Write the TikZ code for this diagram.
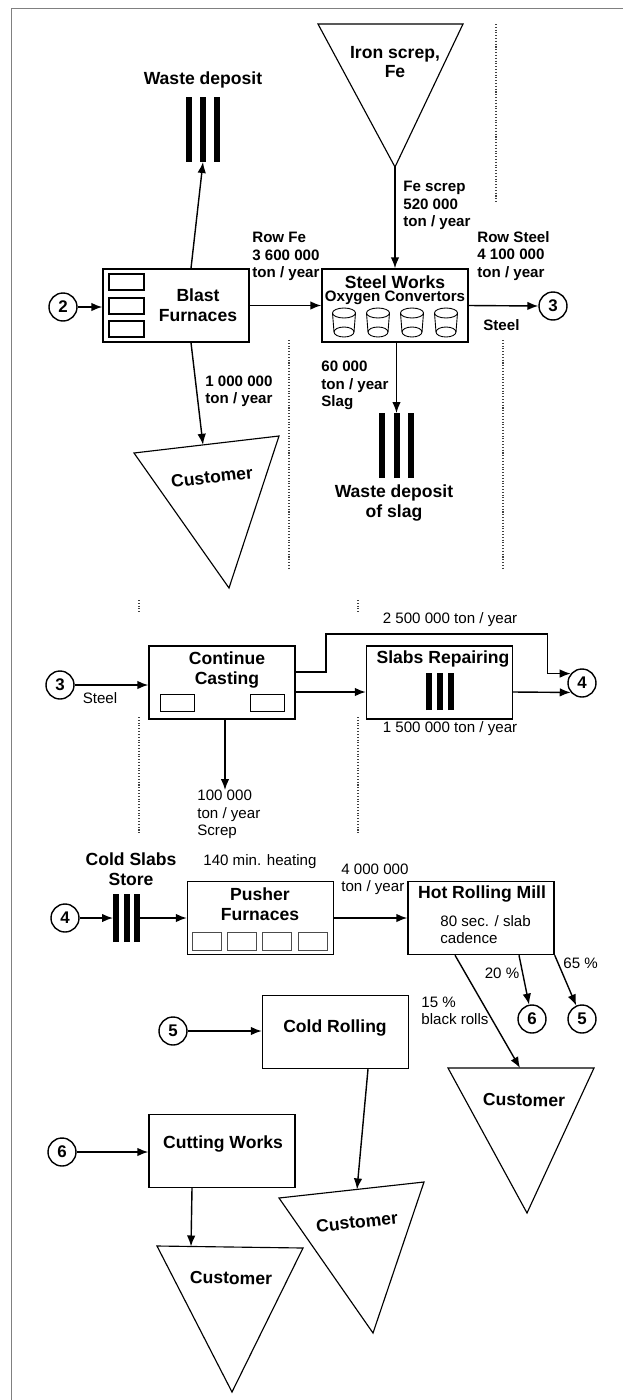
\documentclass[tikz,border=0pt]{standalone}
\usepackage{fontspec}
\setmainfont{Liberation Sans}
\usetikzlibrary{arrows.meta}

\tikzset{
  unit/.style={draw, line width=0.8pt, minimum width=2.92cm, minimum height=1.46cm, inner sep=0},
  link/.style={draw, circle, line width=0.8pt, minimum size=0.56cm, inner sep=0, font=\bfseries\fontsize{9.6}{11}\selectfont},
  title/.style={font=\bfseries\fontsize{10}{11.3}\selectfont, align=center, inner sep=0},
  flow/.style={font=\bfseries\fontsize{8.6}{9.9}\selectfont, align=left, inner sep=0},
  note/.style={font=\fontsize{8.6}{9.9}\selectfont, align=left, inner sep=0},
  arr/.style={line width=0.8pt, -{Latex[length=2.2mm,width=1.7mm]}},
  sink/.style={line width=0.65pt, line join=miter},
  guide/.style={densely dotted, line width=0.6pt, black!75},
  bars/.style={inner sep=0, outer sep=0},
}
\newcommand{\slabbars}[2]{\rule{1.2mm}{#2}\hspace{#1}\rule{1.2mm}{#2}\hspace{#1}\rule{1.2mm}{#2}}

\begin{document}
\begin{tikzpicture}[x=0.02cm, y=-0.02cm]
\useasboundingbox (0,0) rectangle (623,1400);
\draw[gray, line width=1pt] (11.5,1400) -- (11.5,8.5) -- (623,8.5);

% guide lines
\draw[guide] (496,24) -- (496,203);
\draw[guide] (289,340) -- (289,568);
\draw[guide] (503,340) -- (503,568);
\draw[guide] (139,600) -- (139,613);
\draw[guide] (358,600) -- (358,613);
\draw[guide] (139,717) -- (139,835);
\draw[guide] (358,717) -- (358,835);

% iron works
\node[title] (wastetxt) at (203,80) {Waste deposit};
\node[bars] (waste1) at (203,129.5) {\slabbars{1.6mm}{1.3cm}};
\coordinate (irontip) at (395,167);
\draw[sink] (318,24) -- (463,24) -- (irontip) -- cycle;
\node[title] (iron) at (395,62) {Iron screp,\\Fe};

\node[unit] (blast) at (176,305.5) {};
\foreach \ry in {274,298,321} \draw[line width=0.6pt] (109,\ry) rectangle (144,\ry+16);
\node[title] (blasttxt) at (198,305) {Blast\\Furnaces};

\node[unit] (steel) at (395,305.5) {};
\node[title] (steeltxt) at (395,282) {Steel Works};
\node[flow] (oxytxt) at (395,298) {Oxygen Convertors};
\foreach \cx in {344,378,412,446} {
  \draw[line width=0.5pt] (\cx,313) ellipse [x radius=0.23cm, y radius=0.1cm];
  \draw[line width=0.5pt] (\cx-11.5,313) -- (\cx-10,332) (\cx+11.5,313) -- (\cx+10,332);
  \draw[line width=0.5pt] (\cx,332) ellipse [x radius=0.2cm, y radius=0.1cm];
}

\node[bars] (slag) at (396.5,445.5) {\slabbars{1.7mm}{1.3cm}};
\node[title] (slagtxt) at (394,503) {Waste deposit\\of slag};

\coordinate (cust1top) at (203,444.8);
\draw[sink] (134,453) -- (279,436) -- (229,588) -- cycle;
\node[title, rotate=6.7] (cust1) at (212,477) {Customer};

\node[link] (in2) at (63,307) {2};
\node[link] (out3) at (553,306) {3};

\node[flow, anchor=west] at (252,256.5) {Row Fe\\3 600 000\\ton / year};
\node[flow, anchor=west] at (403,205.5) {Fe screp\\520 000\\ton / year};
\node[flow, anchor=west] at (477,256) {Row Steel\\4 100 000\\ton / year};
\node[flow, anchor=west] at (483,325) {Steel};
\node[flow, anchor=west] at (205,391) {1 000 000\\ton / year};
\node[flow, anchor=west] at (321,385.5) {60 000\\ton / year\\Slag};

\draw[arr] (in2.east) -- (in2 -| blast.west);
\draw[arr] (blast.east) -- (steel.west);
\draw[arr] ([xshift=0.3cm]blast.north) -- (waste1.south);
\draw[arr] ([xshift=0.3cm]blast.south) -- (cust1top);
\draw[arr] (irontip) -- (steel.north);
\draw[arr] (steel.east) -- (out3.west);
\draw[arr] (slag.north |- steel.south) -- (slag.north);

% casting
\node[link] (in3) at (60,685) {3};
\node[note] at (100,698) {Steel};
\node[unit] (casting) at (222,682.5) {};
\node[title] (castingtxt) at (227,670) {Continue\\Casting};
\draw[line width=0.5pt] (160,694) rectangle (194,711) (250,694) rectangle (284,711);
\node[unit] (repair) at (439.5,682.5) {};
\node[title] (repairtxt) at (443,659) {Slabs Repairing};
\node[bars] (repairbars) at (439.5,691.5) {\slabbars{1mm}{0.74cm}};
\node[link] (out4) at (582,683) {4};
\node[note] at (450,620) {2 500 000 ton / year};
\node[note] at (450,729) {1 500 000 ton / year};
\coordinate (scrapend) at (225,790);
\node[note, anchor=west] at (197,814.5) {100 000\\ton / year\\Screp};

\draw[arr] (in3.east) -- (in3 -| casting.west);
\draw[arr] ([yshift=0.21cm]casting.east) -| (326,634) -| ([xshift=-0.47cm]out4.140) -- (out4.140);
\draw[arr] ([yshift=-0.19cm]casting.east) -- ([yshift=-0.19cm]repair.west);
\draw[arr] ([yshift=-0.19cm]repair.east) -- (out4.220);
\draw[arr] (scrapend |- casting.south) -- (scrapend);

% rolling
\node[link] (in4) at (65,918) {4};
\node[title] (storetxt) at (131,869) {Cold Slabs\\Store};
\node[bars] (store) at (126.5,918) {\slabbars{0.9mm}{0.96cm}};
\node[unit] (pusher) at (260.5,918) {};
\node[title] (pushertxt) at (260,904) {Pusher\\Furnaces};
\foreach \rx in {192,227,262,298} \draw[line width=0.5pt, black!70] (\rx,932) rectangle (\rx+29,950);
\node[note, anchor=west] at (203,862) {140 min. heating};
\node[note, anchor=west] at (341,879.5) {4 000 000\\ton / year};
\node[unit] (hotmill) at (481,918) {};
\node[title] (hotmilltxt) at (482,894) {Hot Rolling Mill};
\node[note, anchor=west] at (440,929.5) {80 sec. / slab\\cadence};

\node[link] (out6) at (532,1019) {6};
\node[link] (out5) at (582,1019) {5};
\node[note] at (502,973) {20 \%};
\node[note, anchor=west] at (563,963) {65 \%};
\node[note, anchor=west] at (421,1011) {15 \%\\black rolls};

\coordinate (cust3top) at (520,1068);
\draw[sink] (448,1068) -- (594,1068) -- (527,1213) -- cycle;
\node[title, rotate=-1] (cust3) at (524,1100) {Customer};

\node[link] (in5) at (173,1031) {5};
\node[unit] (coldroll) at (335.5,1032) {};
\node[title] (coldrolltxt) at (335,1028) {Cold Rolling};
\coordinate (cust2top) at (357,1189.4);
\draw[sink] (279,1198) -- (424,1182) -- (373,1333) -- cycle;
\node[title, rotate=6.3] (cust2) at (357,1222) {Customer};

\node[link] (in6) at (62,1152) {6};
\node[unit] (cutting) at (222,1151) {};
\node[title] (cuttingtxt) at (223,1144) {Cutting Works};
\coordinate (cust4top) at (191,1246.5);
\draw[sink] (157,1246) -- (303,1248) -- (232,1392) -- cycle;
\node[title, rotate=-1] (cust4) at (231,1278) {Customer};

\draw[arr] (in4.east) -- (store.west);
\draw[arr] (store.east) -- (pusher.west);
\draw[arr] (pusher.east) -- (hotmill.west);
\draw[arr] ([xshift=0.76cm]hotmill.south) -- (out6);
\draw[arr] (hotmill.south east) -- (out5);
\draw[arr] ([xshift=-0.52cm]hotmill.south) -- (cust3top);
\draw[arr] (in5.east) -- (in5 -| coldroll.west);
\draw[arr] ([xshift=0.65cm]coldroll.south) -- (cust2top);
\draw[arr] (in6.east) -- (in6 -| cutting.west);
\draw[arr] ([xshift=-0.6cm]cutting.south) -- (cust4top);
\end{tikzpicture}
\end{document}
